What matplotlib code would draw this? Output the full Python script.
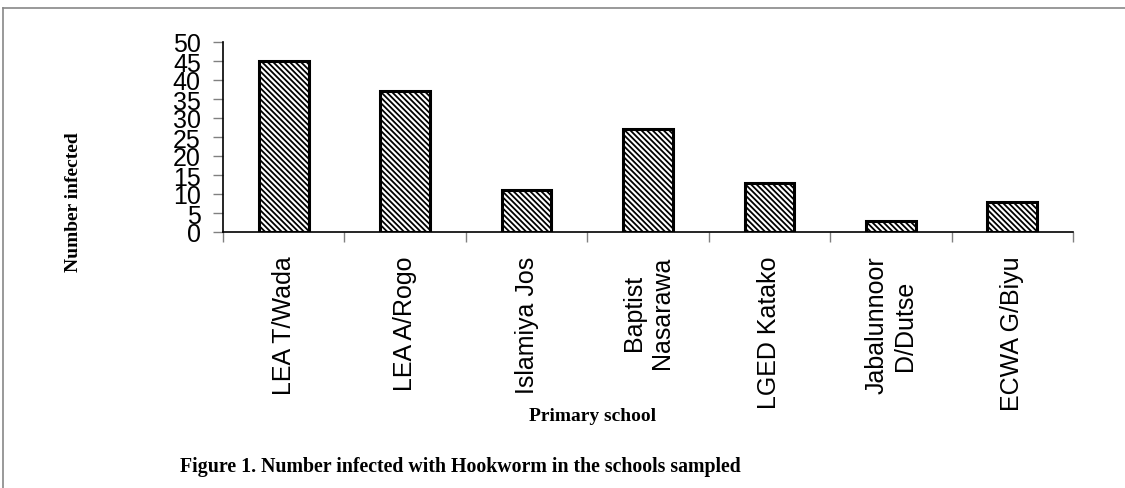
import matplotlib
matplotlib.use("Agg")
import matplotlib.pyplot as plt
from matplotlib.lines import Line2D

schools = ["LEA T/Wada", "LEA A/Rogo", "Islamiya Jos", "Baptist\nNasarawa",
           "LGED Katako", "Jabalunnoor\nD/Dutse", "ECWA G/Biyu"]
infected = [45, 37, 11, 27, 13, 3, 8]
yticks = [0, 5, 10, 15, 20, 25, 30, 35, 40, 45, 50]

plt.rcParams['hatch.linewidth'] = 1.3
plt.rcParams['hatch.color'] = 'black'

fig = plt.figure(figsize=(11.25, 4.89), dpi=100)
ax = fig.add_axes([223/1125, 1-233/489, 850/1125, 190/489])

x = list(range(len(schools)))
ax.bar(x, infected, width=0.41, color='white', edgecolor='black',
       linewidth=2.2, hatch='\\' * 6, zorder=3)

ax.set_xlim(-0.5, len(schools)-0.5)
ax.set_ylim(0, 50)
ax.set_yticks(yticks)
ax.set_yticklabels([str(v) for v in yticks], fontfamily='Liberation Sans', fontsize=18)
ax.tick_params(axis='y', length=7, width=1, color='#808080', pad=9)

ax.set_xticks(x)
ax.set_xticklabels(schools, rotation=90, fontfamily='Liberation Sans', fontsize=18,
                   ha='center', va='top', multialignment='center')
ax.tick_params(axis='x', length=0, pad=17)
# boundary ticks between categories
ax.set_xticks([i + 0.5 for i in range(-1, len(schools))], minor=True)
ax.tick_params(axis='x', which='minor', length=7, width=1, color='#808080', direction='out')

for s in ['top', 'right']:
    ax.spines[s].set_visible(False)
for s in ['left', 'bottom']:
    ax.spines[s].set_color('black')
    ax.spines[s].set_linewidth(1.2)

fig.text(73/1125, 1-202/489, "Number infected", rotation=90, ha='center', va='center',
         fontfamily='Liberation Serif', fontweight='bold', fontsize=14)
fig.text(593/1125, 1-417/489, "Primary school", ha='center', va='center',
         fontfamily='Liberation Serif', fontweight='bold', fontsize=14)
fig.text(180/1125, 1-467/489, "Figure 1. Number infected with Hookworm in the schools sampled",
         ha='left', va='center', fontfamily='Liberation Serif', fontweight='bold', fontsize=14.3)

# page border lines
fig.add_artist(Line2D([3/1125, 1], [1-9/489, 1-9/489], color='#888888', linewidth=1.2,
                      transform=fig.transFigure))
fig.add_artist(Line2D([3/1125, 3/1125], [0, 1-9/489], color='#888888', linewidth=1.2,
                      transform=fig.transFigure))

fig.savefig("out.png", dpi=100)
